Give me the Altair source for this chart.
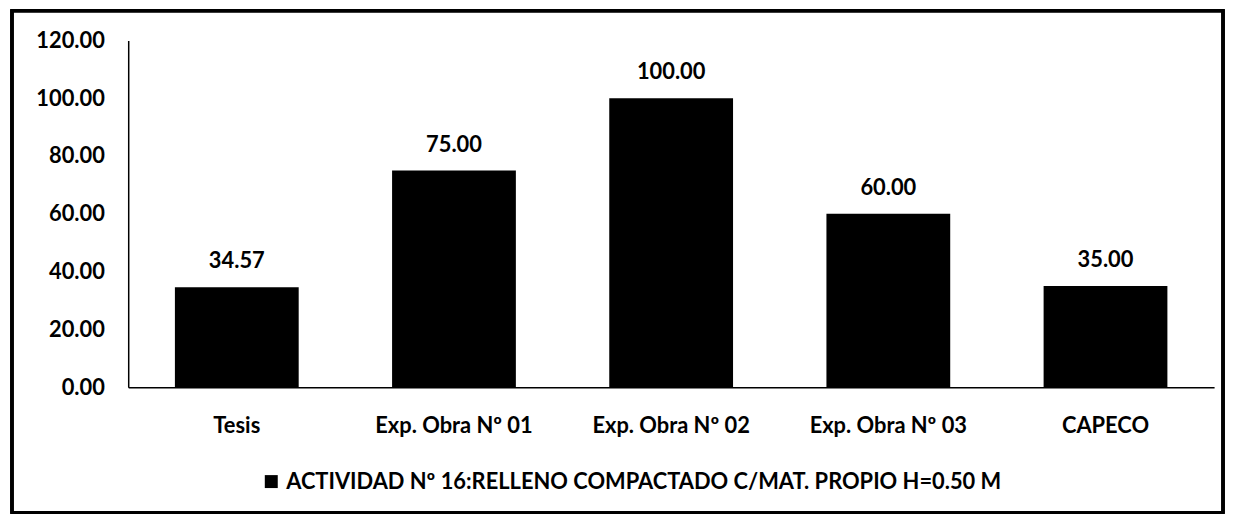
import altair as alt
import pandas as pd

categories = ["Tesis", "Exp. Obra Nº 01", "Exp. Obra Nº 02", "Exp. Obra Nº 03", "CAPECO"]
values = [34.57, 75.00, 100.00, 60.00, 35.00]
series_name = "ACTIVIDAD Nº 16:RELLENO COMPACTADO C/MAT. PROPIO H=0.50 M"

df = pd.DataFrame({"cat": categories, "val": values, "serie": [series_name] * len(categories)})

FONT = "Lato"
FS = 22

base = alt.Chart(df)

bars = base.mark_bar(color="black").encode(
    x=alt.X("cat:N", sort=None, title=None,
            scale=alt.Scale(paddingInner=0.43, paddingOuter=0.215),
            axis=alt.Axis(labelAngle=0, ticks=False, domainColor="black", domainWidth=1.5,
                          labelPadding=29)),
    y=alt.Y("val:Q", title=None,
            scale=alt.Scale(domain=[0, 120]),
            axis=alt.Axis(values=[0, 20, 40, 60, 80, 100, 120], format=".2f", grid=False,
                          ticks=False, domainColor="black", domainWidth=1.5,
                          labelPadding=24)),
    color=alt.Color("serie:N", title=None,
                    scale=alt.Scale(range=["black"]),
                    legend=alt.Legend(orient="none", legendX=133, legendY=433,
                                      symbolType="square", symbolSize=170,
                                      labelFont=FONT, labelFontSize=FS, labelFontWeight="bold",
                                      labelColor="black", labelLimit=1000)),
)

text = base.mark_text(baseline="bottom", dy=-14, font=FONT, fontSize=FS,
                      fontWeight="bold", color="black").encode(
    x=alt.X("cat:N", sort=None),
    y="val:Q",
    text=alt.Text("val:Q", format=".2f"),
)

border = base.mark_rect(fill=None, stroke="black", strokeWidth=3).encode(
    x=alt.value(-117), x2=alt.value(1102), y=alt.value(-30), y2=alt.value(475)
)

chart = alt.layer(bars, text, border).properties(
    width=1093, height=349,
    background="white",
    autosize=alt.AutoSizeParams(type="none"),
    padding={"left": 121, "top": 31, "right": 14, "bottom": 134},
).configure_axis(
    labelFont=FONT, labelFontSize=FS, labelFontWeight="bold", labelColor="black"
).configure_view(stroke=None)

chart.save("out.html", embed_options={"renderer": "svg", "actions": False})
